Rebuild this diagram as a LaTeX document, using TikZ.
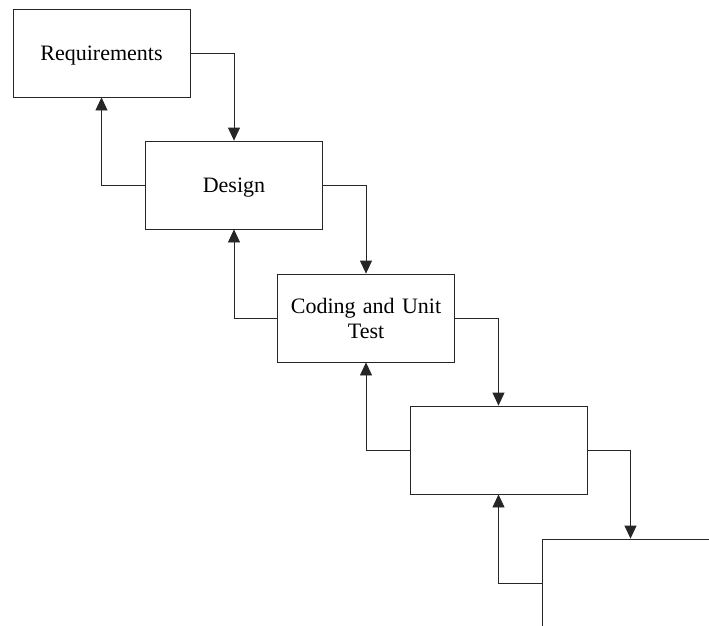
\documentclass[tikz,border=0pt]{standalone}
\usepackage{fontspec}
\setmainfont{Liberation Serif}
\usetikzlibrary{arrows.meta}
\begin{document}
\begin{tikzpicture}[x=1pt,y=-1pt,
  phase/.style={draw=black!85, line width=0.8pt, rectangle, minimum width=177pt,
    minimum height=88pt, inner sep=4pt, align=center, text width=168pt,
    font=\fontsize{22pt}{25pt}\selectfont},
  oneline/.style={text depth=0pt},
  flow/.style={draw=black!85, line width=0.8pt, -{Triangle[width=12pt,length=13pt]}}]
  \useasboundingbox (0,0) rectangle (709,625);
  \clip (0,0) rectangle (709,625);
  \node[phase, oneline] (req) at (101.5,53) {Requirements};
  \node[phase, oneline] (des) at (234,185) {Design};
  \node[phase] (code) at (366,318) {Coding and Unit\\Test};
  \node[phase] (p4) at (498.5,450) {};
  \node[phase] (p5) at (630.5,583) {};
  % forward flow
  \draw[flow] (req.east) -| (des.north);
  \draw[flow] (des.east) -| (code.north);
  \draw[flow] (code.east) -| (p4.north);
  \draw[flow] (p4.east) -| (p5.north);
  % feedback
  \draw[flow] (des.west) -| (req.south);
  \draw[flow] (code.west) -| (des.south);
  \draw[flow] (p4.west) -| (code.south);
  \draw[flow] (p5.west) -| (p4.south);
\end{tikzpicture}
\end{document}
